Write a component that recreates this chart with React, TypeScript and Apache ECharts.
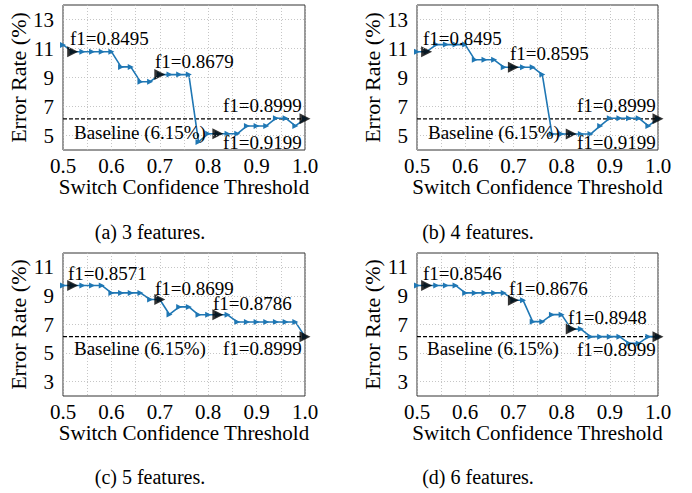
import React, { useEffect, useRef } from 'react';
import * as echarts from 'echarts';

// ---------- data ----------
const thresholds = [0.5, 0.52, 0.54, 0.56, 0.58, 0.6, 0.62, 0.64, 0.66, 0.68, 0.7, 0.72, 0.74, 0.76, 0.78, 0.8, 0.82, 0.84, 0.86, 0.88, 0.9, 0.92, 0.94, 0.96, 0.98, 1.0];
const errA = [11.25, 10.78, 10.78, 10.78, 10.78, 10.78, 9.73, 9.73, 8.71, 8.71, 9.2, 9.2, 9.2, 9.2, 4.56, 5.12, 5.12, 5.12, 5.12, 5.66, 5.66, 5.66, 6.19, 6.19, 5.66, 6.15];
const errB = [10.78, 10.78, 11.27, 11.27, 11.27, 11.27, 10.22, 10.22, 10.22, 9.71, 9.71, 9.71, 9.71, 9.2, 5.1, 5.1, 5.1, 5.1, 5.1, 5.66, 6.19, 6.19, 6.19, 6.19, 5.66, 6.15];
const errC = [9.73, 9.73, 9.73, 9.73, 9.73, 9.21, 9.21, 9.21, 9.21, 8.75, 8.75, 7.7, 8.23, 8.23, 7.68, 7.68, 7.68, 7.68, 7.18, 7.18, 7.18, 7.18, 7.18, 7.18, 7.18, 6.15];
const errD = [9.73, 9.73, 9.73, 9.73, 9.73, 9.21, 9.21, 9.21, 9.21, 9.21, 8.7, 8.7, 7.2, 7.2, 7.69, 7.69, 6.68, 6.68, 6.15, 6.15, 6.15, 6.15, 5.68, 5.68, 6.15, 6.15];
const markedThresholds = [0.52, 0.7, 0.82, 1.0];
const baselineError = 6.15;
const baselineText = 'Baseline (6.15%)';
const f1A = ['f1=0.8495', 'f1=0.8679', 'f1=0.8999', 'f1=0.9199'];
const f1B = ['f1=0.8495', 'f1=0.8595', 'f1=0.8999', 'f1=0.9199'];
const f1C = ['f1=0.8571', 'f1=0.8699', 'f1=0.8786', 'f1=0.8999'];
const f1D = ['f1=0.8546', 'f1=0.8676', 'f1=0.8948', 'f1=0.8999'];
const captions = ['(a) 3 features.', '(b) 4 features.', '(c) 5 features.', '(d) 6 features.'];
const yRangeTop = [4, 14];
const yRangeBottom = [2, 12];
const yTicksTop = [5, 7, 9, 11, 13];
const yTicksBottom = [3, 5, 7, 9, 11];
const xTickLabels = [0.5, 0.6, 0.7, 0.8, 0.9, 1.0];
const xLabel = 'Switch Confidence Threshold';
const yLabel = 'Error Rate (%)';

// ---------- layout ----------
const FONT = 'Liberation Serif';
const grids = [
  { left: 63, top: 5, width: 242, height: 145 },
  { left: 417, top: 5, width: 241, height: 145 },
  { left: 63, top: 253, width: 242, height: 143 },
  { left: 417, top: 253, width: 241, height: 143 },
];
const annPos = [
  [[70, 38], [155, 61], [223, 105], [223, 142]],
  [[423, 38], [510, 53], [577, 105], [577, 142]],
  [[68, 273], [155, 288], [213, 303], [223, 348]],
  [[423, 273], [509, 288], [568, 317], [577, 349]],
];
const basePos = [[74, 132], [428, 132], [74, 348], [427, 348]];
const capPos = [[150, 232], [478, 232], [150, 477], [478, 477]];

const panels = [
  { err: errA, f1: f1A, yr: yRangeTop, yt: yTicksTop },
  { err: errB, f1: f1B, yr: yRangeTop, yt: yTicksTop },
  { err: errC, f1: f1C, yr: yRangeBottom, yt: yTicksBottom },
  { err: errD, f1: f1D, yr: yRangeBottom, yt: yTicksBottom },
];

function txt(x: number, y: number, text: string, size: number, align: string) {
  return {
    type: 'text', x, y, z: 10,
    style: { text, fontFamily: FONT, fontSize: size, fill: '#000', verticalAlign: 'middle', align },
  };
}

function buildOption() {
  const xAxis: any[] = [];
  const yAxis: any[] = [];
  const series: any[] = [];
  const graphic: any[] = [];

  panels.forEach((p, i) => {
    xAxis.push({
      type: 'value', gridIndex: i, min: 0.5, max: 1.0, interval: 0.05,
      axisLine: { show: false }, axisTick: { show: false },
      axisLabel: {
        fontFamily: FONT, fontSize: 21, color: '#000', margin: 5,
        formatter: (v: number) => {
          const hit = xTickLabels.find((t) => Math.abs(t - v) < 1e-6);
          return hit !== undefined ? hit.toFixed(1) : '';
        },
      },
      splitLine: { show: true, lineStyle: { color: '#b8b8b8', type: [1, 2], width: 0.8 } },
      name: xLabel, nameLocation: 'middle', nameGap: 25,
      nameTextStyle: { fontFamily: FONT, fontSize: 21, color: '#000' },
    });
    yAxis.push({
      type: 'value', gridIndex: i, min: p.yr[0], max: p.yr[1], interval: 1,
      axisLine: { show: false }, axisTick: { show: false },
      axisLabel: {
        fontFamily: FONT, fontSize: 21, color: '#000', margin: 9,
        formatter: (v: number) => (p.yt.includes(v) ? String(v) : ''),
      },
      splitLine: { show: false },
      name: yLabel, nameLocation: 'middle', nameGap: 28, nameRotate: 90,
      nameTextStyle: { fontFamily: FONT, fontSize: 22, color: '#000' },
    });

    // gridlines + baseline
    series.push({
      type: 'line', xAxisIndex: i, yAxisIndex: i, z: 1,
      data: [[0.5, baselineError], [1.0, baselineError]],
      symbol: 'none',
      lineStyle: { color: '#000', width: 1.1, type: [4, 2] },
      markLine: {
        silent: true, symbol: ['none', 'none'], label: { show: false },
        lineStyle: { color: '#b8b8b8', type: [1, 2], width: 0.8 },
        data: p.yt.map((v) => ({ yAxis: v })),
      },
    });

    const pts = thresholds.map((t, k) => [t, p.err[k]]);
    series.push({
      type: 'line', xAxisIndex: i, yAxisIndex: i, z: 3,
      data: pts, showAllSymbol: true,
      symbol: 'triangle', symbolRotate: -90, symbolSize: 6,
      lineStyle: { color: '#1f77b4', width: 1.6 },
      itemStyle: { color: '#1f77b4' },
    });
    series.push({
      type: 'scatter', xAxisIndex: i, yAxisIndex: i, z: 4,
      data: markedThresholds.map((t) => {
        const k = thresholds.findIndex((x) => Math.abs(x - t) < 1e-6);
        return [t, p.err[k]];
      }),
      symbol: 'triangle', symbolRotate: -90, symbolSize: 11,
      itemStyle: { color: '#000' },
    });

    p.f1.forEach((t, j) => {
      graphic.push(txt(annPos[i][j][0], annPos[i][j][1], t, 19, 'left'));
    });
    graphic.push(txt(basePos[i][0], basePos[i][1], baselineText, 19, 'left'));
    graphic.push(txt(capPos[i][0], capPos[i][1], captions[i], 20, 'center'));
  });

  return {
    animation: false,
    backgroundColor: '#fff',
    textStyle: { fontFamily: FONT },
    grid: grids.map((g) => ({ ...g, show: true, borderColor: '#333', borderWidth: 1, backgroundColor: 'transparent' })),
    xAxis, yAxis, series, graphic,
  };
}

export default function App() {
  const ref = useRef<HTMLDivElement>(null);
  useEffect(() => {
    if (!ref.current) return;
    const chart = echarts.init(ref.current, undefined, { renderer: 'svg' });
    chart.setOption(buildOption() as any);
    return () => chart.dispose();
  }, []);
  return <div ref={ref} style={{ position: 'absolute', left: 0, top: 0, width: 692, height: 493 }} />;
}
